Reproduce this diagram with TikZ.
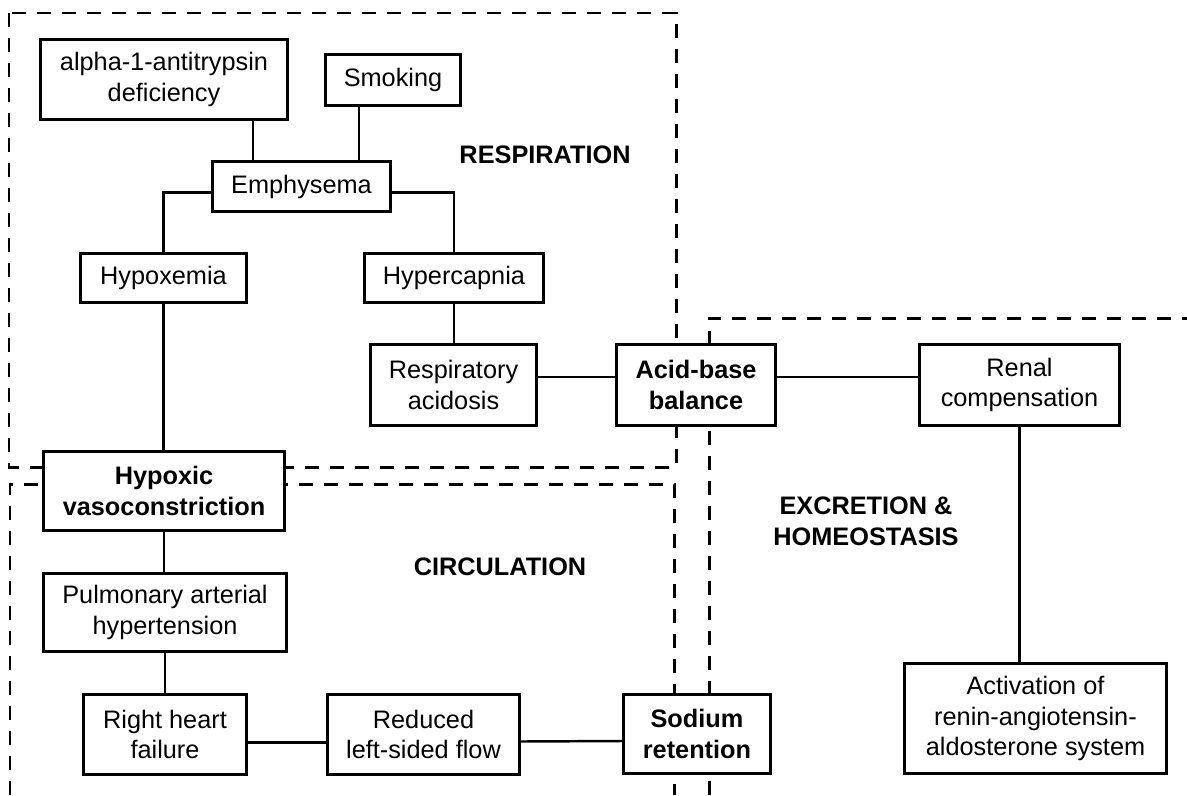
\documentclass[tikz,border=0pt]{standalone}
\usepackage{fontspec}
\setmainfont{Liberation Sans}
\usetikzlibrary{calc}
\tikzset{
  box/.style 2 args={draw, line width=1.9pt, fill=white, align=center, inner sep=1pt,
    minimum width=#1cm, minimum height=#2cm, font=\fontsize{14.4}{17.5}\selectfont},
  zone/.style={line width=1.7pt, dash pattern=on 0.28cm off 0.22cm},
  zonelabel/.style={font=\fontsize{14.4}{17.5}\selectfont\bfseries, align=center},
  link/.style={line width=1.4pt}
}
\begin{document}
\begin{tikzpicture}[x=0.02cm, y=-0.02cm]
\useasboundingbox (0,0) rectangle (1187,795);
\draw[zone] (9,13) rectangle (676,467);
\draw[zone] (10,795) -- (10,484) -- (674,484) -- (674,795);
\draw[zone] (709,795) -- (709,318) -- (1187,318);

\node[zonelabel] (respl) at (545,155) {RESPIRATION};
\node[zonelabel] (circl) at (500,567) {CIRCULATION};
\node[zonelabel] (excl) at (866,521) {EXCRETION \&\\HOMEOSTASIS};

\node[box={4.94}{1.6}] (alpha) at (164,79.5) {alpha-1-antitrypsin\\deficiency};
\node[box={2.7}{1.02}] (smoke) at (393,80) {Smoking};
\node[box={3.56}{1.0}] (emph) at (301.5,186.5) {Emphysema};
\node[box={3.32}{0.98}] (hypox) at (163.5,278) {Hypoxemia};
\node[box={3.58}{0.98}] (hyperc) at (454,278) {Hypercapnia};
\node[box={3.32}{1.62}] (racid) at (453.5,385) {Respiratory\\acidosis};
\node[box={3.18}{1.62}] (acid) at (696,385) {\textbf{Acid-base}\\\textbf{balance}};
\node[box={4.0}{1.62}] (renal) at (1019.5,385) {Renal\\compensation};
\node[box={4.82}{1.58}] (vaso) at (164,491) {\textbf{Hypoxic}\\\textbf{vasoconstriction}};
\node[box={4.86}{1.56}] (pulm) at (165,612.5) {Pulmonary arterial\\hypertension};
\node[box={3.26}{1.6}] (rhf) at (165,734.5) {Right heart\\failure};
\node[box={3.84}{1.6}] (red) at (423.5,734.5) {Reduced\\left-sided flow};
\node[box={2.94}{1.58}] (sodium) at (697,734) {\textbf{Sodium}\\\textbf{retention}};
\node[box={5.24}{2.2}] (act) at (1035.5,718.5) {Activation of\\renin-angiotensin-\\aldosterone system};

\coordinate (ja) at (253,0);
\coordinate (js) at (359,0);
\draw[link] (alpha.south -| ja) -- (emph.north -| ja);
\draw[link] (smoke.south -| js) -- (emph.north -| js);
\draw[link] ($(emph.west)+(0,6)$) -| (hypox.north);
\draw[link] ($(emph.east)+(0,6)$) -| (hyperc.north);
\draw[link] (hypox.south) -- (hypox.south |- vaso.north);
\draw[link] (hyperc.south) -- (hyperc.south |- racid.north);
\draw[link] ($(racid.east)+(0,-8)$) -- ($(acid.west)+(0,-8)$);
\draw[link] ($(acid.east)+(0,-8)$) -- ($(renal.west)+(0,-8)$);
\draw[link] (renal.south) -- (renal.south |- act.north);
\draw[link] (vaso.south) -- (vaso.south |- pulm.north);
\draw[link] (pulm.south) -- (pulm.south |- rhf.north);
\draw[link] ($(rhf.east)+(0,8)$) -- ($(red.west)+(0,8)$);
\draw[link] ($(red.east)+(0,7)$) -- ($(sodium.west)+(0,7)$);
\draw[link] ($(sodium.east)+(0,8)$) -- ($(sodium.east)+(0,8)$ -| act.west);
\end{tikzpicture}
\end{document}
